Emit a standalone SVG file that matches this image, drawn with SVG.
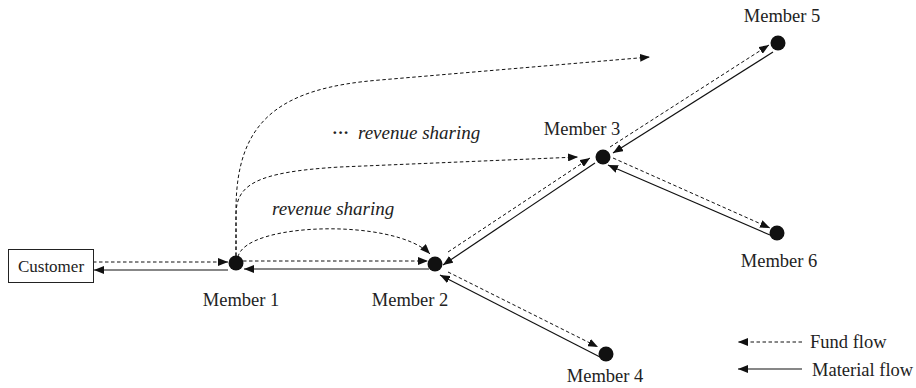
<svg xmlns="http://www.w3.org/2000/svg" width="916" height="388" viewBox="0 0 916 388">
<style>
text{font-family:"Liberation Serif","Times New Roman",serif;fill:#222}
.lbl{font-size:18.5px;text-anchor:middle}
.it{font-family:"Liberation Serif","Times New Roman",serif;font-size:19px;font-style:italic}
.d{fill:none;stroke:#111;stroke-width:1;stroke-dasharray:3.5 2.5;marker-end:url(#ah)}
.s{fill:none;stroke:#111;stroke-width:1.2;marker-end:url(#ah)}
.n{fill:#111}
</style>
<defs>
<marker id="ah" viewBox="0 0 10 8" refX="10" refY="4" markerWidth="10" markerHeight="8" orient="auto" markerUnits="userSpaceOnUse">
<path d="M0,0 L10,4 L0,8 z" fill="#111"/>
</marker>
</defs>
<rect width="916" height="388" fill="#fff"/>
<g id="connectors">
<path class="d" d="M93 262 L228 262"/>
<path class="s" d="M228 270 L94 270"/>
<path class="d" d="M243 261 L428 261"/>
<path class="s" d="M429 269 L244 269"/>
<path class="d" d="M238 257 C245 222 395 218 430 254"/>
<path class="d" d="M236 256 L236 215 C236 185 255 172 340 167 L578 157"/>
<path class="d" d="M236 256 L236 210 C236 120 280 88 380 80 L650 57"/>
<path class="d" d="M448 252 L590 158"/>
<path class="s" d="M595 163 L443 265"/>
<path class="d" d="M610 147 L769 45"/>
<path class="s" d="M773 52 L613 153"/>
<path class="d" d="M613 158 L770 228"/>
<path class="s" d="M770 235 L608 165"/>
<path class="d" d="M448 272 L598 347"/>
<path class="s" d="M600 357 L440 275"/>
</g>
<g id="customer">
<rect x="8.5" y="249.5" width="85" height="33" fill="#fff" stroke="#222" stroke-width="1"/>
<text x="51" y="271.5" font-family="Liberation Serif, Times New Roman, serif" font-size="17" text-anchor="middle">Customer</text>
</g>
<g id="member1"><circle class="n" cx="236" cy="263" r="7.5"/><text class="lbl" x="241" y="306">Member 1</text></g>
<g id="member2"><circle class="n" cx="435" cy="264" r="7.5"/><text class="lbl" x="410" y="306">Member 2</text></g>
<g id="member3"><circle class="n" cx="603" cy="157" r="7.5"/><text class="lbl" x="582" y="135">Member 3</text></g>
<g id="member4"><circle class="n" cx="606" cy="354" r="7.5"/><text class="lbl" x="605" y="382">Member 4</text></g>
<g id="member5"><circle class="n" cx="778" cy="43" r="7.5"/><text class="lbl" x="782" y="22">Member 5</text></g>
<g id="member6"><circle class="n" cx="777" cy="233" r="7.5"/><text class="lbl" x="779" y="267">Member 6</text></g>
<g id="labels">
<text class="it" x="272" y="215">revenue sharing</text>
<text x="332" y="138" font-family="Liberation Serif, Times New Roman, serif" font-size="17" font-weight="bold">···</text>
<text class="it" x="358" y="139">revenue sharing</text>
</g>
<g id="legend">
<path class="d" d="M802 342 L738 342"/>
<path class="s" d="M802 369 L738 369"/>
<text x="810" y="348" font-size="18.5">Fund flow</text>
<text x="812" y="376" font-size="18.5">Material flow</text>
</g>
</svg>
